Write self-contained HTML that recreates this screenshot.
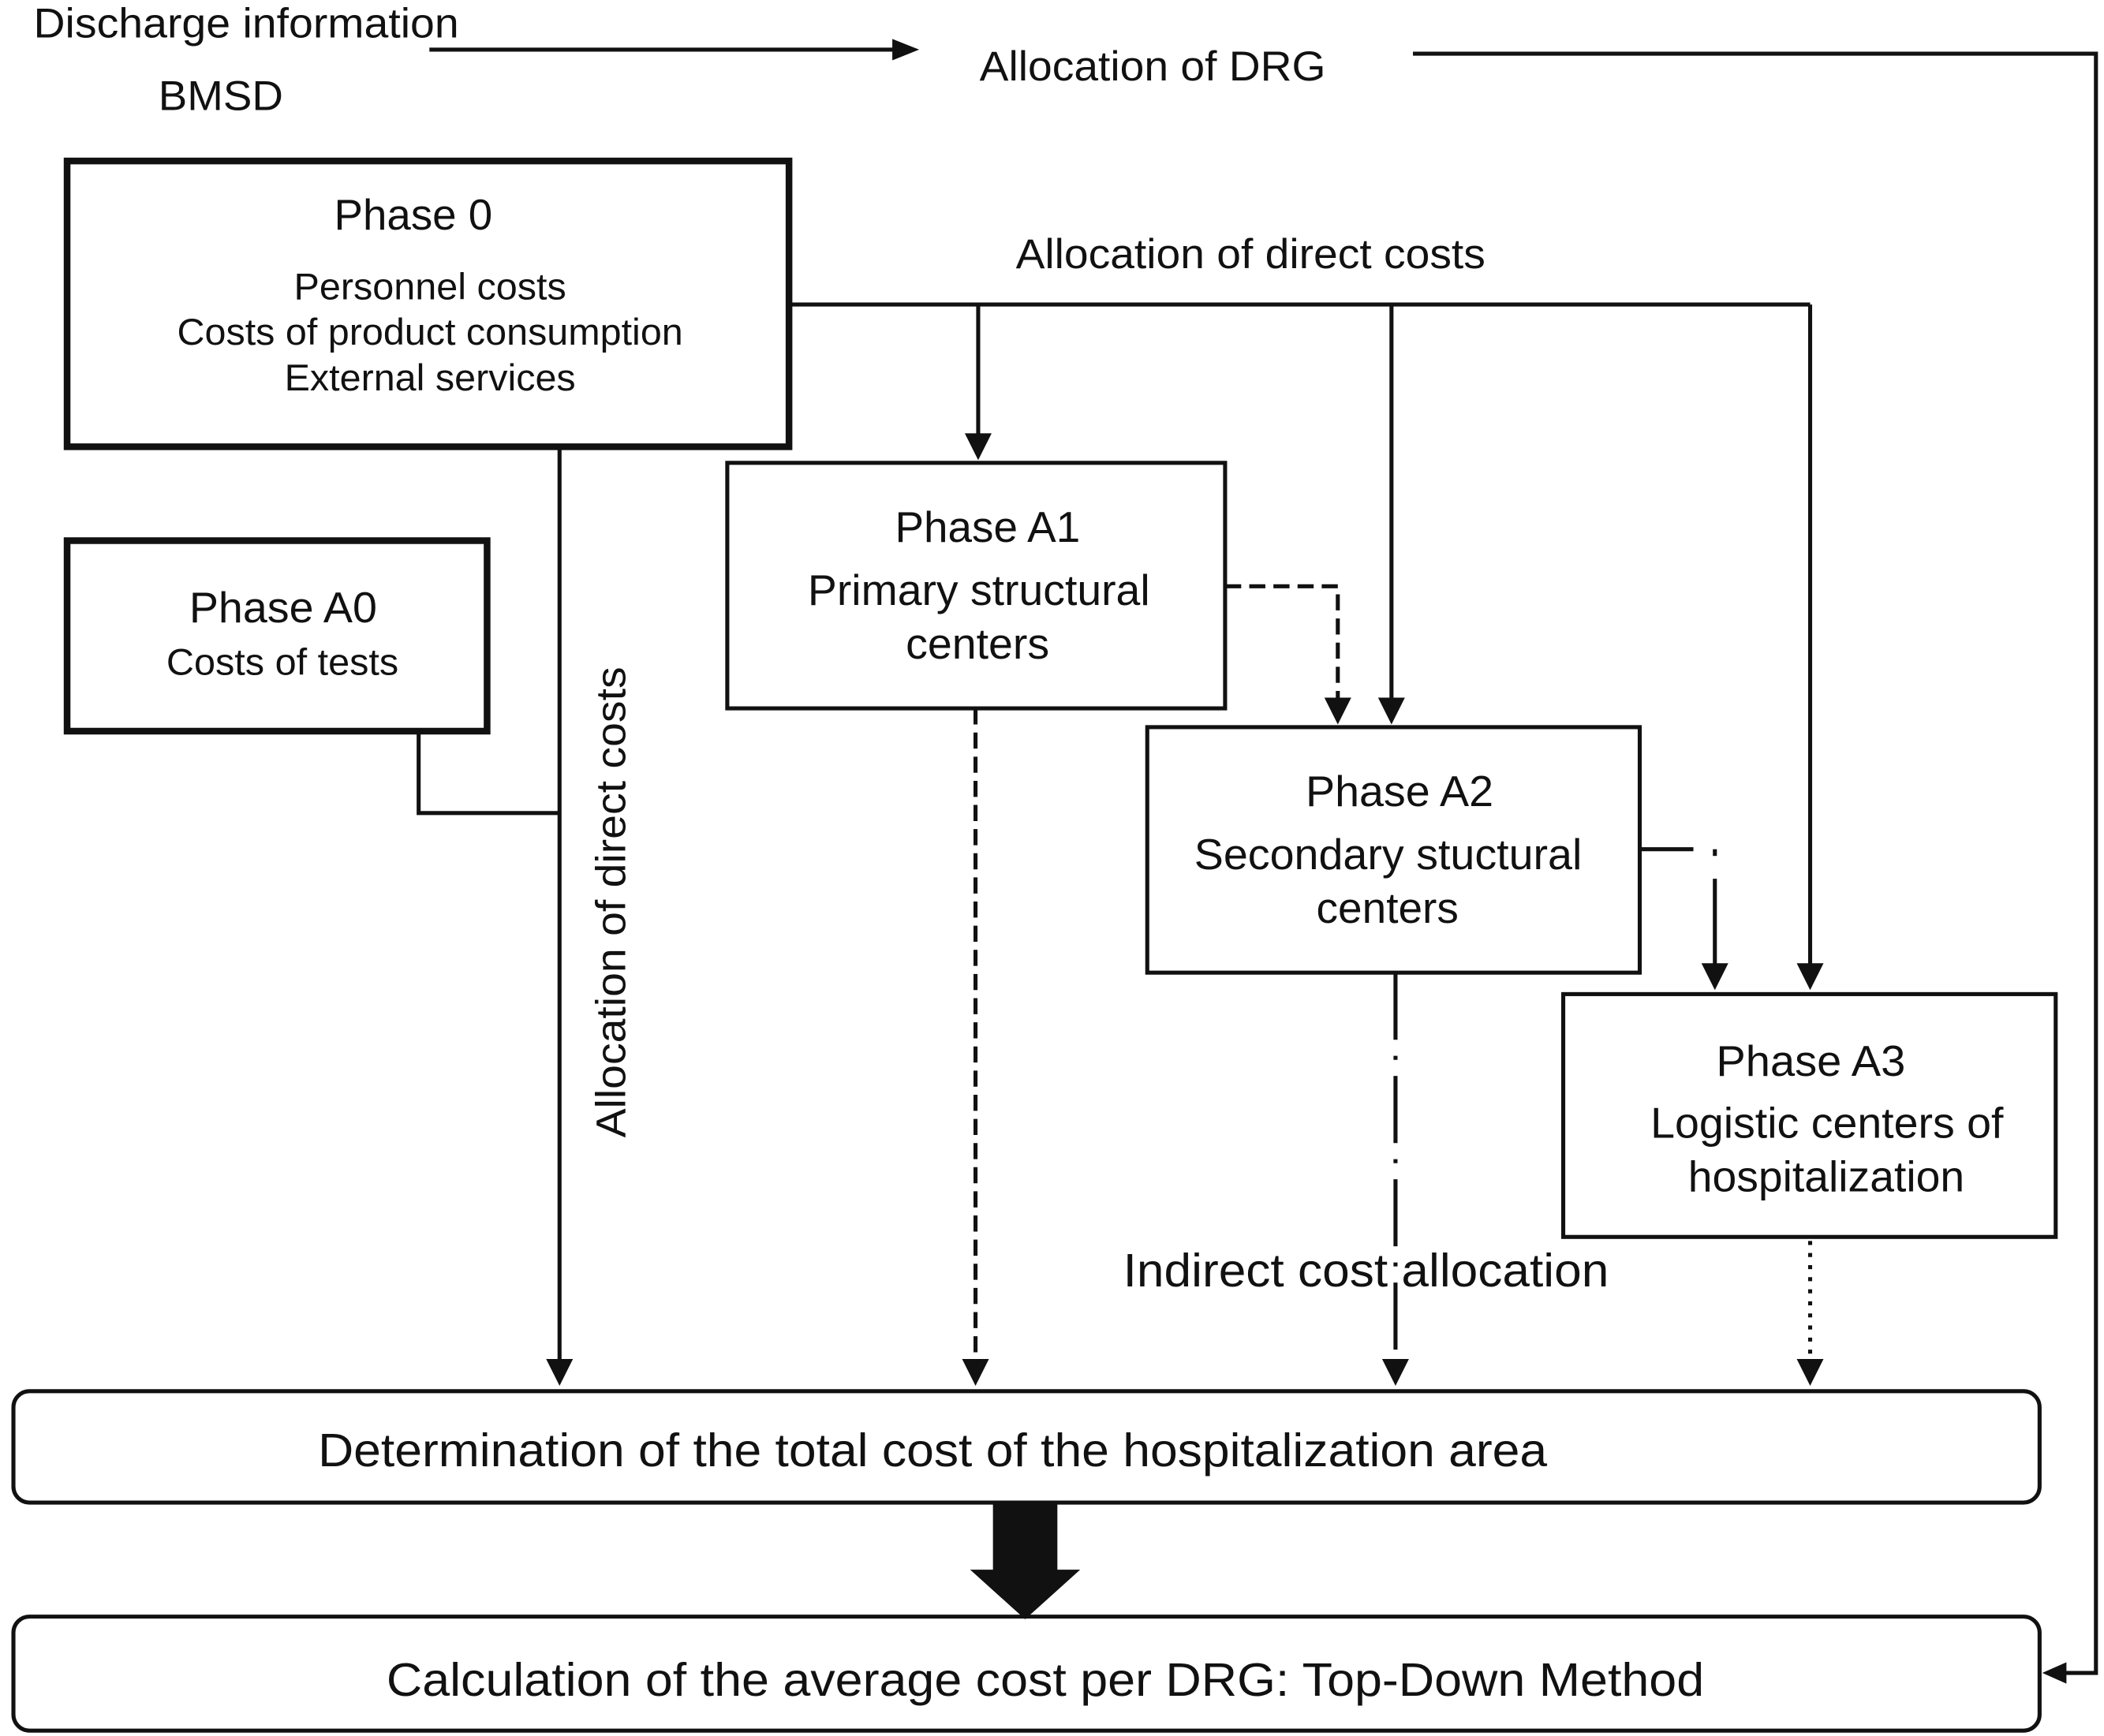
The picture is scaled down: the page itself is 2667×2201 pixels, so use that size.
<!DOCTYPE html>
<html><head><meta charset="utf-8"><style>
html,body{margin:0;padding:0;background:#fff;}
svg{display:block;}
text{font-family:"Liberation Sans",sans-serif;fill:#111;}
</style></head><body>
<svg width="2667" height="2201" viewBox="0 0 1568 1294" preserveAspectRatio="none" xmlns="http://www.w3.org/2000/svg">
<g stroke="#111" fill="none" stroke-width="3">
<line x1="320" y1="37" x2="670" y2="37"/>
<polyline points="1053,40 1562,40 1562,1247 1538,1247"/>
<rect x="50" y="120" width="538" height="213" stroke-width="5"/>
<rect x="50" y="403" width="313" height="142" stroke-width="5"/>
<rect x="542" y="345" width="371" height="183"/>
<rect x="855" y="542" width="367" height="183"/>
<rect x="1165" y="741" width="367" height="181"/>
<rect x="10" y="1037" width="1510" height="83" rx="12"/>
<rect x="10" y="1205" width="1510" height="85" rx="12"/>
<line x1="588" y1="227" x2="1349" y2="227"/>
<line x1="729" y1="227" x2="729" y2="326"/>
<line x1="1037" y1="227" x2="1037" y2="523"/>
<line x1="1349" y1="227" x2="1349" y2="721"/>
<polyline points="312,545 312,606 417,606"/>
<line x1="417" y1="333" x2="417" y2="1016"/>
<polyline points="913,437 997,437 997,523" stroke-dasharray="12,6"/>
<line x1="727" y1="528" x2="727" y2="1016" stroke-dasharray="12,6"/>
<polyline points="1222,633 1262,633" />
<line x1="1278" y1="633" x2="1278" y2="638"/>
<line x1="1278" y1="655" x2="1278" y2="721"/>
<line x1="1040" y1="725" x2="1040" y2="1016" stroke-dasharray="50,12,3,12"/>
<line x1="1349" y1="925" x2="1349" y2="1016" stroke-dasharray="3,6"/>
</g>
<g fill="#111">
<polygon points="685,37 665,29 665,45"/>
<polygon points="1522,1247 1540,1239 1540,1255"/>
<polygon points="729,343 719,323 739,323"/>
<polygon points="1037,540 1027,520 1047,520"/>
<polygon points="1349,738 1339,718 1359,718"/>
<polygon points="417,1033 407,1013 427,1013"/>
<polygon points="997,540 987,520 1007,520"/>
<polygon points="727,1033 717,1013 737,1013"/>
<polygon points="1278,738 1268,718 1288,718"/>
<polygon points="1040,1033 1030,1013 1050,1013"/>
<polygon points="1349,1033 1339,1013 1359,1013"/>
<rect x="740" y="1120" width="48" height="52"/>
<polygon points="723,1170 805,1170 764,1207"/>
</g>
<g lengthAdjust="spacingAndGlyphs">
<text x="25" y="28" font-size="31" textLength="317" lengthAdjust="spacingAndGlyphs">Discharge information</text>
<text x="118" y="82" font-size="31" textLength="93" lengthAdjust="spacingAndGlyphs">BMSD</text>
<text x="730" y="60" font-size="31" textLength="258" lengthAdjust="spacingAndGlyphs">Allocation of DRG</text>
<text x="757" y="200" font-size="31" textLength="350" lengthAdjust="spacingAndGlyphs">Allocation of direct costs</text>
<text x="249" y="171" font-size="32" textLength="118" lengthAdjust="spacingAndGlyphs">Phase 0</text>
<text x="219" y="223" font-size="28" textLength="203" lengthAdjust="spacingAndGlyphs">Personnel costs</text>
<text x="132" y="257" font-size="28" textLength="377" lengthAdjust="spacingAndGlyphs">Costs of product consumption</text>
<text x="212" y="291" font-size="28" textLength="217" lengthAdjust="spacingAndGlyphs">External services</text>
<text x="141" y="464" font-size="32" textLength="140" lengthAdjust="spacingAndGlyphs">Phase A0</text>
<text x="124" y="503" font-size="28" textLength="173" lengthAdjust="spacingAndGlyphs">Costs of tests</text>
<text x="667" y="404" font-size="32" textLength="138" lengthAdjust="spacingAndGlyphs">Phase A1</text>
<text x="602" y="451" font-size="32" textLength="255" lengthAdjust="spacingAndGlyphs">Primary structural</text>
<text x="675" y="491" font-size="32" textLength="107" lengthAdjust="spacingAndGlyphs">centers</text>
<text x="973" y="601" font-size="32" textLength="140" lengthAdjust="spacingAndGlyphs">Phase A2</text>
<text x="890" y="648" font-size="32" textLength="289" lengthAdjust="spacingAndGlyphs">Secondary stuctural</text>
<text x="981" y="688" font-size="32" textLength="106" lengthAdjust="spacingAndGlyphs">centers</text>
<text x="1279" y="802" font-size="32" textLength="141" lengthAdjust="spacingAndGlyphs">Phase A3</text>
<text x="1230" y="848" font-size="32" textLength="263" lengthAdjust="spacingAndGlyphs">Logistic centers of</text>
<text x="1258" y="888" font-size="32" textLength="206" lengthAdjust="spacingAndGlyphs">hospitalization</text>
<text x="237" y="1093" font-size="35" textLength="916" lengthAdjust="spacingAndGlyphs">Determination of the total cost of the hospitalization area</text>
<text x="288" y="1264" font-size="35" textLength="982" lengthAdjust="spacingAndGlyphs">Calculation of the average cost per DRG: Top-Down Method</text>
<text transform="translate(466,848) rotate(-90)" font-size="31" textLength="351" lengthAdjust="spacingAndGlyphs">Allocation of direct costs</text>
<text x="837" y="959" font-size="35" textLength="362" lengthAdjust="spacingAndGlyphs">Indirect cost allocation</text>
</g>
</svg>
</body></html>
